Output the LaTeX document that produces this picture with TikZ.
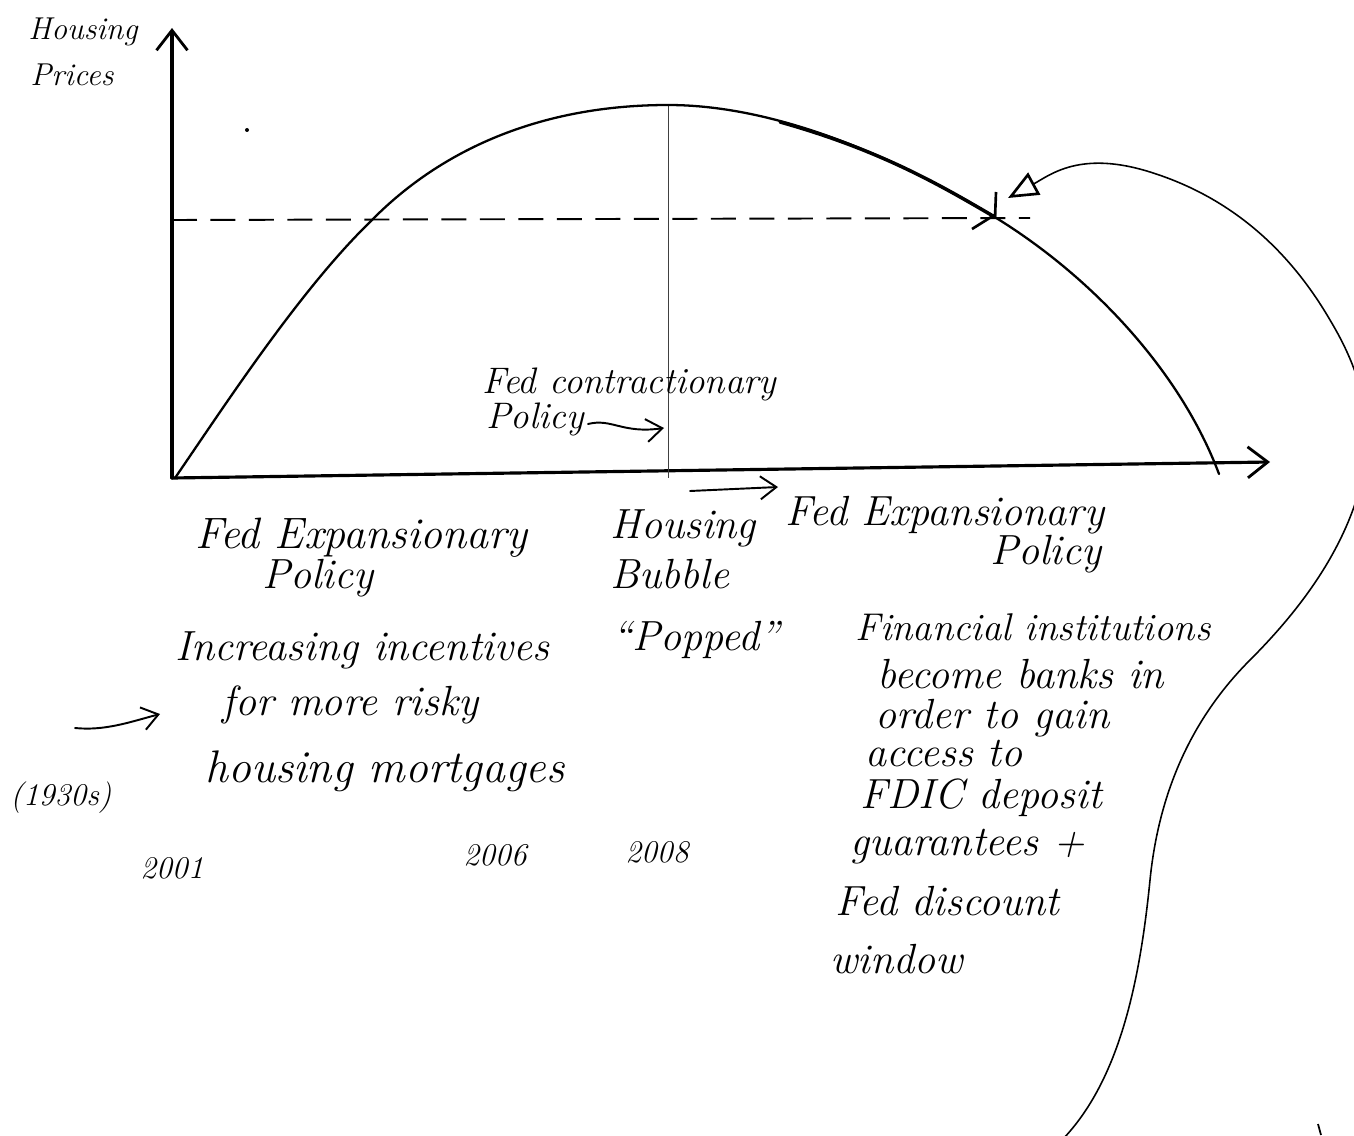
\documentclass[tikz,border=0pt]{standalone}
\usetikzlibrary{arrows.meta}
\begin{document}
\begin{tikzpicture}[x=0.02cm,y=-0.02cm,
  hand/.style={font=\fontsize{24}{28}\selectfont\itshape, inner sep=0pt, anchor=base west},
  smallhand/.style={hand, font=\fontsize{18}{22}\selectfont\itshape},
  axisline/.style={line width=1.8pt, line cap=round},
  barb/.style={-{Straight Barb[length=0.4cm,width=0.62cm,line width=1.6pt]}},
  thinbarb/.style={line width=1.1pt, line cap=round, -{Straight Barb[length=0.32cm,width=0.46cm,line width=1.1pt]}},
]
\useasboundingbox (0,0) rectangle (1354,1135);

% axes
\coordinate (O) at (172,478);
\coordinate (ytop) at (172,28);
\coordinate (xend) at (1270,462);
\draw[axisline, barb] (O) -- (ytop);
\draw[axisline, barb] (O) -- (xend);

% vertical line at 2006
\coordinate (vtop) at (668,105);
\coordinate (vbot) at (668,478);
\draw[line width=0.5pt, black!75] (vtop) -- (vbot);

% dashed level line
\coordinate (d1) at (172,220);
\coordinate (d2) at (1030,218);
\draw[line width=1.1pt, dash pattern=on 0.5cm off 0.27cm] (d1) -- (d2);

% housing price curve
\coordinate (c0) at (175,478);
\coordinate (c1) at (370,222);
\coordinate (c2) at (668,105);
\coordinate (c3) at (993,216);
\coordinate (c4) at (1219,474);
\draw[line width=1.3pt, line cap=round] (c0) .. controls (225,405) and (300,290) .. (c1)
  .. controls (440,150) and (540,105) .. (c2)
  .. controls (780,105) and (900,160) .. (c3)
  .. controls (1090,275) and (1180,370) .. (c4);
\draw[line width=2pt, line cap=round] (780,122) .. controls (880,150) and (940,185) .. (c3);

% mark at the point
\draw[line width=1.5pt] (996,192) -- (995,218);
\draw[line width=1.5pt] (972,229) -- (996,214);

% stray dot
\fill (247,130) circle (2);

% big loop arrow
\coordinate (L0) at (1062,1140);
\coordinate (L1) at (1150,880);
\coordinate (L2) at (1250,660);
\coordinate (L3) at (1362,480);
\coordinate (L4) at (1330,320);
\coordinate (L5) at (1150,172);
\coordinate (L6) at (1008,198);
\begin{scope}
\clip (0,0) rectangle (1354,1135);
\draw[line width=0.9pt, -{Triangle[open,length=0.6cm,width=0.5cm,line width=1.5pt]}]
  (L0) .. controls (1120,1080) and (1140,980) .. (L1)
  .. controls (1160,780) and (1200,710) .. (L2)
  .. controls (1300,610) and (1345,550) .. (L3)
  .. controls (1375,420) and (1360,370) .. (L4)
  .. controls (1295,260) and (1240,200) .. (L5)
  .. controls (1080,150) and (1050,175) .. (L6);
\end{scope}
\draw[line width=1pt] (1318,1124) -- (1321,1135);

% axis label
\node[smallhand] (hp1) at (28,40) {Housing};
\node[smallhand] (hp2) at (30,86) {Prices};

% contractionary policy
\node[hand, font=\fontsize{21}{24}\selectfont\itshape] (fc1) at (482,393) {Fed contractionary};
\node[hand, font=\fontsize{21}{24}\selectfont\itshape] (fc2) at (486,428) {Policy};
\coordinate (w1) at (588,424);
\coordinate (w2) at (664,428);
\draw[thinbarb] (w1) .. controls (612,418) and (622,434) .. (w2);

% left block
\node[hand, font=\fontsize{25}{28}\selectfont\itshape] (fe1) at (195,548) {Fed Expansionary};
\node[hand] (fe2) at (262,588) {Policy};
\node[hand] (in1) at (175,660) {Increasing incentives};
\node[hand] (in2) at (222,715) {for more risky};
\node[hand, font=\fontsize{26}{28}\selectfont\itshape] (in3) at (205,782) {housing mortgages};
\node[smallhand] (y30) at (10,805) {(1930s)};
\coordinate (a1s) at (75,728);
\coordinate (a1e) at (160,714);
\draw[thinbarb] (a1s) .. controls (105,731) and (130,722) .. (a1e);

% middle block
\node[hand] (hb1) at (610,538) {Housing};
\node[hand] (hb2) at (610,588) {Bubble};
\node[hand] (hb3) at (612,650) {``Popped''};

% right block
\coordinate (a2s) at (690,491);
\coordinate (a2e) at (778,487);
\draw[thinbarb] (a2s) -- (a2e);
\node[hand] (fr1) at (785,525) {Fed Expansionary};
\node[hand] (fr2) at (990,564) {Policy};
\node[hand, font=\fontsize{22}{26}\selectfont\itshape] (fi1) at (855,640) {Financial institutions};
\node[hand] (fi2) at (877,688) {become banks in};
\node[hand] (fi3) at (875,728) {order to gain};
\node[hand] (fi4) at (865,766) {access to};
\node[hand] (fi5) at (860,808) {FDIC deposit};
\node[hand] (fi6) at (850,855) {guarantees +};
\node[hand] (fi7) at (835,915) {Fed discount};
\node[hand] (fi8) at (830,973) {window};

% years
\node[smallhand] (y01) at (140,878) {2001};
\node[smallhand] (y06) at (463,865) {2006};
\node[smallhand] (y08) at (625,862) {2008};
\end{tikzpicture}
\end{document}
